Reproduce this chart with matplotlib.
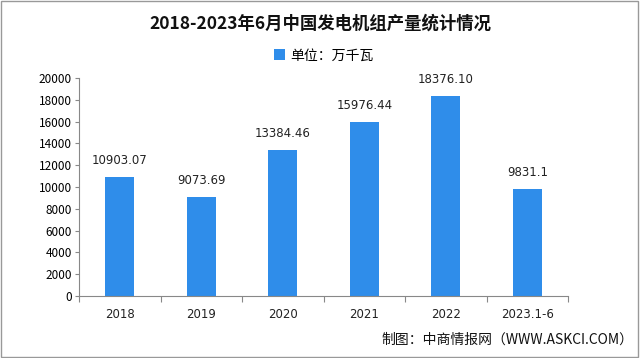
import matplotlib
matplotlib.use('Agg')
import matplotlib.pyplot as plt
import numpy as np

plt.rcParams['font.family'] = ['Noto Sans CJK SC', 'DejaVu Sans']

categories = ['2018', '2019', '2020', '2021', '2022', '2023.1-6']
output = [10903.07, 9073.69, 13384.46, 15976.44, 18376.10, 9831.1]
value_labels = ['10903.07', '9073.69', '13384.46', '15976.44', '18376.10', '9831.1']

bar_color = '#2F8DEA'

fig = plt.figure(figsize=(6.4, 3.58), dpi=100)
ax = fig.add_axes([79 / 640, 1 - 296 / 358, (568 - 79) / 640, (296 - 78) / 358])

x = np.arange(len(categories))
bars = ax.bar(x, output, width=0.36, color=bar_color, label='单位：万千瓦')

for xi, v, lab in zip(x, output, value_labels):
    ax.text(xi, v + 900, lab, ha='center', va='bottom', fontsize=8.5,
            family=['DejaVu Sans'], color='#222222')

ax.set_xlim(-0.5, len(categories) - 0.5)
ax.set_ylim(0, 20000)
ax.set_yticks(np.arange(0, 20001, 2000))
ax.tick_params(axis='y', labelsize=8.5, length=3, color='#888888', pad=2)

# category boundary ticks on x axis
ax.set_xticks(np.arange(-0.5, len(categories), 1.0))
ax.set_xticklabels([])
ax.tick_params(axis='x', length=4, color='#888888')
for xi, c in zip(x, categories):
    ax.text(xi, -1100, c, ha='center', va='top', fontsize=8.5,
            family=['DejaVu Sans'], color='#222222')

for s in ['top', 'right']:
    ax.spines[s].set_visible(False)
ax.spines['left'].set_color('#888888')
ax.spines['bottom'].set_color('#888888')

fig.text(0.5, 1 - 24 / 358, '2018-2023年6月中国发电机组产量统计情况', ha='center',
         va='center', fontsize=12.5, fontweight='bold', color='#111111')
ax.legend(loc='upper center', bbox_to_anchor=(0.5, 1 + 42 / 218), frameon=False,
          fontsize=10, handlelength=0.8, handleheight=0.8, handletextpad=0.4)

fig.text(0.99, 1 - 340 / 358, '制图：中商情报网（WWW.ASKCI.COM）', ha='right',
         va='center', fontsize=10, color='#111111')

# outer frame
fig.patches.append(plt.Rectangle((0.002, 0.003), 0.995, 0.994, transform=fig.transFigure,
                                 fill=False, ec='#999999', lw=1))

fig.savefig('out.png', dpi=100)
